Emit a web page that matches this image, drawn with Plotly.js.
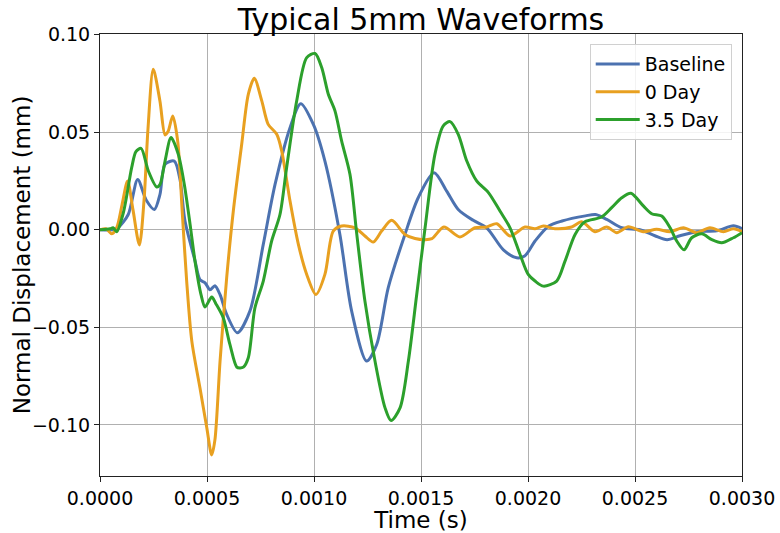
<!DOCTYPE html>
<html>
<head>
<meta charset="utf-8">
<script src="https://cdn.plot.ly/plotly-3.0.1.min.js"></script>
<style>
  html, body { margin: 0; padding: 0; background: #fff; }
  #chart { width: 780px; height: 533px; }
</style>
</head>
<body>
<div id="chart"></div>
<script>
// Normal displacement waveforms (mm) against time (s) for a 5 mm specimen.

const baselineT = [0, 0.000056, 0.000084, 0.000132, 0.000176, 0.000215, 0.000254, 0.00028, 0.000304,
  0.000347, 0.000374, 0.000397, 0.000444, 0.000467, 0.000491, 0.000514, 0.000537, 0.000561, 0.000592,
  0.000642, 0.000701, 0.000763, 0.000818, 0.000888, 0.000938, 0.000997, 0.001051, 0.001121, 0.001176,
  0.001246, 0.001293, 0.001347, 0.001425, 0.001487, 0.001561, 0.00162, 0.001674, 0.001744, 0.001807,
  0.001885, 0.001947, 0.001986, 0.002033, 0.002097, 0.002159, 0.002268, 0.002316, 0.002368, 0.002438,
  0.002523, 0.002593, 0.00265, 0.00271, 0.002788, 0.002882, 0.00296, 0.003];
const baselineV = [0, 0, 0.001, 0.0078, 0.0258, 0.0154, 0.0104, 0.018, 0.0335,
  0.0352, 0.0256, 0.0046, -0.0159, -0.0256, -0.0272, -0.0308, -0.0287, -0.0333, -0.0434,
  -0.0528, -0.0415, -0.0075, 0.0232, 0.0523, 0.0646, 0.054, 0.0352, -0.0024, -0.0417,
  -0.0673, -0.0588, -0.0297, -0.0024, 0.0164, 0.0292, 0.0198, 0.0104, 0.0048, 0.001,
  -0.0103, -0.0144, -0.0133, -0.0058, 0.0019, 0.0045, 0.0071, 0.0078, 0.0053, 0.001,
  0, -0.0031, -0.0051, -0.0031, -0.001, -0.0005, 0.002, 0.0005];

const day0T = [0, 0.000028, 0.000055, 0.000078, 0.000103, 0.000129, 0.000154, 0.000184, 0.000206,
  0.000224, 0.000249, 0.00028, 0.000304, 0.000318, 0.00034, 0.000363, 0.000385, 0.000405, 0.000429,
  0.000467, 0.000499, 0.000522, 0.000537, 0.000561, 0.000592, 0.000623, 0.000662, 0.000693, 0.000721,
  0.000756, 0.000786, 0.000826, 0.000849, 0.000888, 0.000927, 0.000966, 0.001009, 0.001051, 0.00109,
  0.001129, 0.001192, 0.001238, 0.001277, 0.001316, 0.001363, 0.001425, 0.001472, 0.001519, 0.001551,
  0.001607, 0.001682, 0.001752, 0.001807, 0.001854, 0.001916, 0.001986, 0.002033, 0.002072, 0.002126,
  0.002204, 0.002251, 0.002313, 0.002368, 0.002415, 0.002469, 0.002539, 0.002601, 0.002664, 0.002726,
  0.002788, 0.00285, 0.002913, 0.00296, 0.003];
const day0V = [0, 0.0005, -0.0021, 0.001, 0.0128, 0.025, 0.0103, -0.0078, 0.0154,
  0.0513, 0.0822, 0.066, 0.0486, 0.0503, 0.0583, 0.0455, 0.0078, -0.0263, -0.0571,
  -0.081, -0.1015, -0.1154, -0.1077, -0.0673, -0.0246, 0.0096, 0.0437, 0.0694, 0.0776,
  0.066, 0.054, 0.0489, 0.0404, 0.0147, -0.0075, -0.0229, -0.0332, -0.0229, -0.0007,
  0.0019, 0.001, -0.0032, -0.0063, -0.0007, 0.0048, -0.0024, -0.0045, -0.0051, -0.0046,
  0.0014, -0.0037, 0.001, 0.0014, 0.0031, -0.0032, 0.0014, 0.0005, 0.0019, 0.0005,
  0.0014, 0.0041, -0.001, 0.0014, -0.0015, 0.0015, -0.001, 0.0002, -0.001, 0.001,
  -0.0015, 0.001, -0.001, 0.0005, -0.001];

const day35T = [0, 0.000047, 0.000061, 0.000078, 0.000109, 0.000148, 0.000168, 0.000192, 0.000226,
  0.000265, 0.00028, 0.000304, 0.000332, 0.000366, 0.000394, 0.000421, 0.000444, 0.000472, 0.000491,
  0.000522, 0.000542, 0.000576, 0.000607, 0.000639, 0.000654, 0.00067, 0.000693, 0.000724, 0.000763,
  0.000802, 0.000841, 0.000872, 0.000919, 0.000966, 0.001005, 0.001036, 0.001067, 0.001098, 0.001129,
  0.001168, 0.0012, 0.001238, 0.001285, 0.001332, 0.00136, 0.001402, 0.001441, 0.00148, 0.001519,
  0.001565, 0.001604, 0.001636, 0.001674, 0.001714, 0.00176, 0.001815, 0.001869, 0.001916, 0.001963,
  0.002001, 0.002033, 0.002072, 0.002134, 0.002173, 0.00222, 0.002266, 0.002344, 0.002391, 0.002438,
  0.002481, 0.002539, 0.002578, 0.002625, 0.002664, 0.002695, 0.002729, 0.002765, 0.002812, 0.002859,
  0.002905, 0.00296, 0.003];
const day35V = [0, 0.0005, 0.001, -0.001, 0.0087, 0.0318, 0.04, 0.0417, 0.0301,
  0.0219, 0.0231, 0.0352, 0.0472, 0.0386, 0.0232, 0.0027, -0.0161, -0.0332, -0.0396,
  -0.0345, -0.038, -0.0451, -0.0588, -0.0704, -0.0708, -0.0704, -0.0656, -0.04, -0.0263,
  -0.0058, 0.0078, 0.0318, 0.066, 0.0882, 0.0903, 0.0831, 0.0694, 0.0609, 0.0455,
  0.0284, -0.0024, -0.0366, -0.0673, -0.0913, -0.0978, -0.0913, -0.0673, -0.0332, 0.001,
  0.0386, 0.0532, 0.0554, 0.0489, 0.0352, 0.025, 0.019, 0.0096, 0.001, -0.0127,
  -0.0229, -0.0263, -0.0289, -0.0263, -0.0161, -0.0024, 0.0041, 0.0065, 0.0113, 0.0164,
  0.0187, 0.0122, 0.0082, 0.007, 0.001, -0.0058, -0.0103, -0.0041, -0.0021, -0.0051,
  -0.0067, -0.0041, -0.0015];

const seriesNames = ['Baseline', '0 Day', '3.5 Day'];
const seriesColors = ['#4c72b0', '#e8a020', '#2ca02c'];

const xTicks = [0, 0.0005, 0.001, 0.0015, 0.002, 0.0025, 0.003];
const yTicks = [-0.10, -0.05, 0.00, 0.05, 0.10];

const FONT = 'DejaVu Sans, Verdana, sans-serif';

const curves = [[baselineT, baselineV], [day0T, day0V], [day35T, day35V]];
const traces = curves.map(([t, v], i) => ({
  type: 'scatter',
  mode: 'lines',
  name: seriesNames[i],
  x: t,
  y: v,
  line: { color: seriesColors[i], width: 3, shape: 'spline', smoothing: 0.8 }
}));

const axisCommon = {
  showline: true,
  mirror: true,
  linecolor: '#222',
  linewidth: 1,
  ticks: 'outside',
  ticklen: 5,
  tickwidth: 1,
  tickcolor: '#222',
  showgrid: true,
  gridcolor: '#b0b0b0',
  gridwidth: 1,
  zeroline: false,
  automargin: false,
  tickfont: { family: FONT, size: 19, color: '#000' }
};

const layout = {
  width: 780,
  height: 533,
  margin: { l: 100, r: 38, t: 34, b: 57 },
  paper_bgcolor: '#fff',
  plot_bgcolor: '#fff',
  font: { family: FONT, color: '#000' },
  title: {
    text: 'Typical 5mm Waveforms',
    font: { family: FONT, size: 30, color: '#000' },
    x: 0.5, xref: 'paper', xanchor: 'center',
    y: 0.964, yref: 'container', yanchor: 'middle'
  },
  xaxis: Object.assign({}, axisCommon, {
    range: [0, 0.003],
    tickvals: xTicks,
    tickformat: '.4f',
    title: { text: 'Time (s)', font: { family: FONT, size: 23, color: '#000' } }
  }),
  yaxis: Object.assign({}, axisCommon, {
    range: [-0.1262, 0.1003],
    tickvals: yTicks,
    tickformat: '.2f'
  }),
  // vertical axis label, placed beside the tick labels
  annotations: [{
    text: 'Normal Displacement (mm)',
    textangle: -90,
    xref: 'paper', x: -0.121, xanchor: 'center',
    yref: 'paper', y: 0.5, yanchor: 'middle',
    showarrow: false,
    font: { family: FONT, size: 23, color: '#000' }
  }],
  showlegend: true,
  legend: {
    x: 0.984, xanchor: 'right',
    y: 0.977, yanchor: 'top',
    bgcolor: 'rgba(255,255,255,0.85)',
    bordercolor: '#d0d0d0',
    borderwidth: 1,
    itemwidth: 44,
    font: { family: FONT, size: 19, color: '#000' }
  }
};

Plotly.newPlot('chart', traces, layout, { staticPlot: true, displayModeBar: false });
</script>
</body>
</html>
